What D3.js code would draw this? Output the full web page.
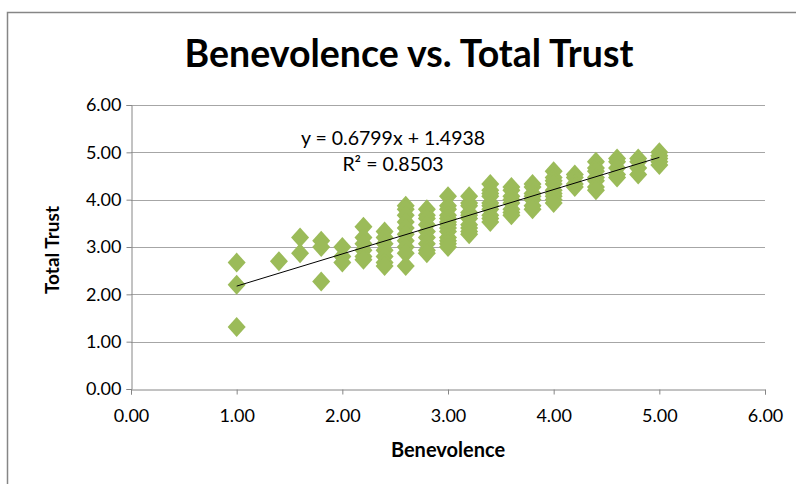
<!DOCTYPE html>
<html>
<head>
<meta charset="utf-8">
<script src="https://cdn.jsdelivr.net/npm/d3@7"></script>
<style>
  body { margin: 0; background: #fff; }
  svg { display: block; font-family: Lato, "Open Sans", sans-serif; }
</style>
</head>
<body>
<svg id="chart" width="796" height="484"></svg>
<script>
//  Benevolence levels (x) and the Total Trust scores observed at each level
var benevolenceLevels = [1.0, 1.4, 1.6, 1.8, 2.0, 2.2, 2.4, 2.6, 2.8, 3.0,
                         3.2, 3.4, 3.6, 3.8, 4.0, 4.2, 4.4, 4.6, 4.8, 5.0];

var trustByLevel = [
    [2.67, 2.20, 1.31],
    [2.70],
    [3.20, 2.87],
    [3.13, 3.00, 2.27],
    [3.00, 2.80, 2.67],
    [3.43, 3.20, 3.07, 2.93, 2.80, 2.73],
    [3.33, 3.20, 3.07, 2.93, 2.80, 2.67, 2.60],
    [3.87, 3.80, 3.67, 3.53, 3.40, 3.27, 3.13, 3.00, 2.87, 2.60],
    [3.80, 3.67, 3.60, 3.47, 3.33, 3.20, 3.07, 2.93, 2.87],
    [4.07, 3.87, 3.80, 3.67, 3.60, 3.53, 3.47, 3.40, 3.33, 3.20, 3.13, 3.07, 3.00],
    [4.07, 3.93, 3.87, 3.73, 3.67, 3.60, 3.47, 3.40, 3.33, 3.27],
    [4.33, 4.20, 4.13, 4.07, 3.93, 3.87, 3.80, 3.67, 3.60, 3.53],
    [4.27, 4.20, 4.07, 4.00, 3.93, 3.80, 3.73, 3.67],
    [4.33, 4.27, 4.13, 4.07, 4.00, 3.87, 3.80],
    [4.60, 4.47, 4.40, 4.33, 4.20, 4.13, 4.07, 4.00, 3.93],
    [4.53, 4.47, 4.33, 4.27],
    [4.80, 4.67, 4.60, 4.47, 4.40, 4.27, 4.20],
    [4.87, 4.80, 4.67, 4.53, 4.47],
    [4.87, 4.80, 4.67, 4.53],
    [5.00, 4.93, 4.87, 4.80, 4.73]
];

var tickValues = [0, 1, 2, 3, 4, 5, 6];

//  trendline from the chart label
var slope = 0.6799, intercept = 1.4938, rSquared = 0.8503;
var trendRange = [1, 5];

var svg = d3.select('#chart');

//  outer chart frame
svg.append('path')
    .attr('d', 'M7.5,484 V12.5 H796')
    .attr('fill', 'none')
    .attr('stroke', '#868686')
    .attr('stroke-width', 1.5);

var x = d3.scaleLinear().domain([0, 6]).range([131, 765]);
var y = d3.scaleLinear().domain([0, 6]).range([389, 105]);

//  gridlines
svg.append('g')
    .selectAll('line')
    .data(tickValues.slice(1))
    .enter().append('line')
    .attr('x1', x(0)).attr('x2', x(6))
    .attr('y1', function(d) { return Math.round(y(d)) + 0.5; })
    .attr('y2', function(d) { return Math.round(y(d)) + 0.5; })
    .attr('stroke', '#a6a6a6');

//  axes
var xAxis = svg.append('g')
    .attr('transform', 'translate(0,' + (Math.round(y(0)) + 0.5) + ')')
    .call(d3.axisBottom(x).tickValues(tickValues).tickSize(5).tickPadding(15)
        .tickFormat(d3.format('.2f')));

var yAxis = svg.append('g')
    .attr('transform', 'translate(' + (Math.round(x(0)) + 0.5) + ',0)')
    .call(d3.axisLeft(y).tickValues(tickValues).tickSize(5).tickPadding(5)
        .tickFormat(d3.format('.2f')));

[xAxis, yAxis].forEach(function(g) {
    g.selectAll('path, line').attr('stroke', '#868686');
    g.selectAll('text')
        .attr('fill', '#000')
        .style('font-family', 'Lato, "Open Sans", sans-serif')
        .style('font-size', '18px');
});

//  scatter points
var points = [];
benevolenceLevels.forEach(function(b, i) {
    trustByLevel[i].forEach(function(t) { points.push({ x: b, y: t }); });
});

svg.append('g')
    .selectAll('path')
    .data(points)
    .enter().append('path')
    .attr('d', function(d) {
        var cx = x(d.x), cy = y(d.y);
        return 'M' + cx + ',' + (cy - 10) + ' L' + (cx + 9) + ',' + cy +
               ' L' + cx + ',' + (cy + 10) + ' L' + (cx - 9) + ',' + cy + 'Z';
    })
    .attr('fill', '#9bbb59');

//  linear trendline
svg.append('line')
    .attr('x1', x(trendRange[0])).attr('y1', y(slope * trendRange[0] + intercept))
    .attr('x2', x(trendRange[1])).attr('y2', y(slope * trendRange[1] + intercept))
    .attr('stroke', '#000')
    .attr('stroke-width', 1);

//  equation label
var eq = svg.append('text')
    .attr('text-anchor', 'middle')
    .attr('font-size', '19.5px')
    .attr('fill', '#000');
eq.append('tspan').attr('x', 393).attr('y', 145)
    .text('y = ' + slope + 'x + ' + intercept);
eq.append('tspan').attr('x', 393).attr('y', 171)
    .text('R\u00b2 = ' + rSquared);

//  titles
svg.append('text')
    .attr('x', 409).attr('y', 67)
    .attr('text-anchor', 'middle')
    .attr('font-size', '37.5px')
    .attr('font-weight', 'bold')
    .text('Benevolence vs. Total Trust');

svg.append('text')
    .attr('x', 448).attr('y', 457)
    .attr('text-anchor', 'middle')
    .attr('font-size', '20px')
    .attr('font-weight', 'bold')
    .text('Benevolence');

svg.append('text')
    .attr('transform', 'translate(59,250) rotate(-90)')
    .attr('text-anchor', 'middle')
    .attr('font-size', '19px')
    .attr('font-weight', 'bold')
    .text('Total Trust');
</script>
</body>
</html>
